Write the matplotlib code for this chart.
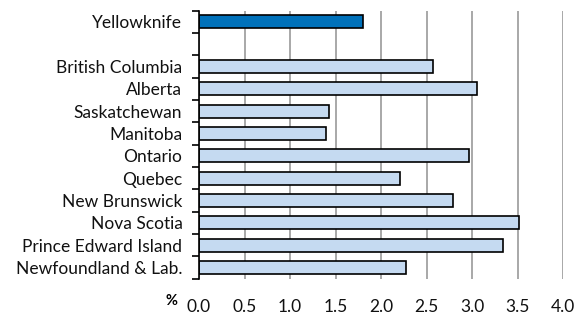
import numpy as np
import matplotlib
matplotlib.use("Agg")
import matplotlib.pyplot as plt
from matplotlib.ticker import FixedLocator

plt.rcParams['font.family'] = ['Lato', 'DejaVu Sans']

categories = ["Yellowknife", "", "British Columbia", "Alberta", "Saskatchewan",
              "Manitoba", "Ontario", "Quebec", "New Brunswick", "Nova Scotia",
              "Prince Edward Island", "Newfoundland & Lab."]
values = [1.80, np.nan, 2.57, 3.05, 1.43, 1.39, 2.96, 2.21, 2.79, 3.51, 3.34, 2.27]
highlight = ["Yellowknife"]
xticks = [0.0, 0.5, 1.0, 1.5, 2.0, 2.5, 3.0, 3.5, 4.0]

dark = "#0071BA"
light = "#C5DAF1"

fig = plt.figure(figsize=(5.82, 3.15), dpi=100)
ax = fig.add_axes([0.342, 0.1156, 0.626, 0.8504])

y = np.arange(len(categories))
colors = [dark if c in highlight else light for c in categories]
vals = [0 if np.isnan(v) else v for v in values]
bars = ax.barh(y, vals, height=0.58, color=colors, edgecolor="black", linewidth=1.2, zorder=3)
for b, v in zip(bars, values):
    if np.isnan(v):
        b.set_visible(False)

ax.set_ylim(len(categories) - 0.5, -0.5)
ax.set_xlim(0, 4.0)
ax.set_xticks(xticks)
ax.set_xticklabels([f"{t:.1f}" for t in xticks])
ax.set_yticks(y)
ax.set_yticklabels(categories)
ax.yaxis.set_minor_locator(FixedLocator(np.arange(-0.5, len(categories), 1.0)))
ax.tick_params(axis='y', which='major', length=0, pad=12, labelsize=12.5, labelcolor='#111111')
ax.tick_params(axis='y', which='minor', length=5, width=1.2, color='black', direction='out')
ax.tick_params(axis='x', which='major', length=0, pad=15, labelsize=12.5, labelcolor='#111111')

ax.grid(axis='x', color='#999999', linewidth=1.2, zorder=0)
for s in ['top', 'right', 'bottom']:
    ax.spines[s].set_visible(False)
ax.spines['left'].set_color('black')
ax.spines['left'].set_linewidth(1.2)
ax.spines['left'].set_zorder(4)

fig.text(171.5 / 582, 1 - 301 / 315, "%", fontsize=10.5, fontweight='bold', ha='center', va='center')

fig.savefig("out.png", dpi=100)
